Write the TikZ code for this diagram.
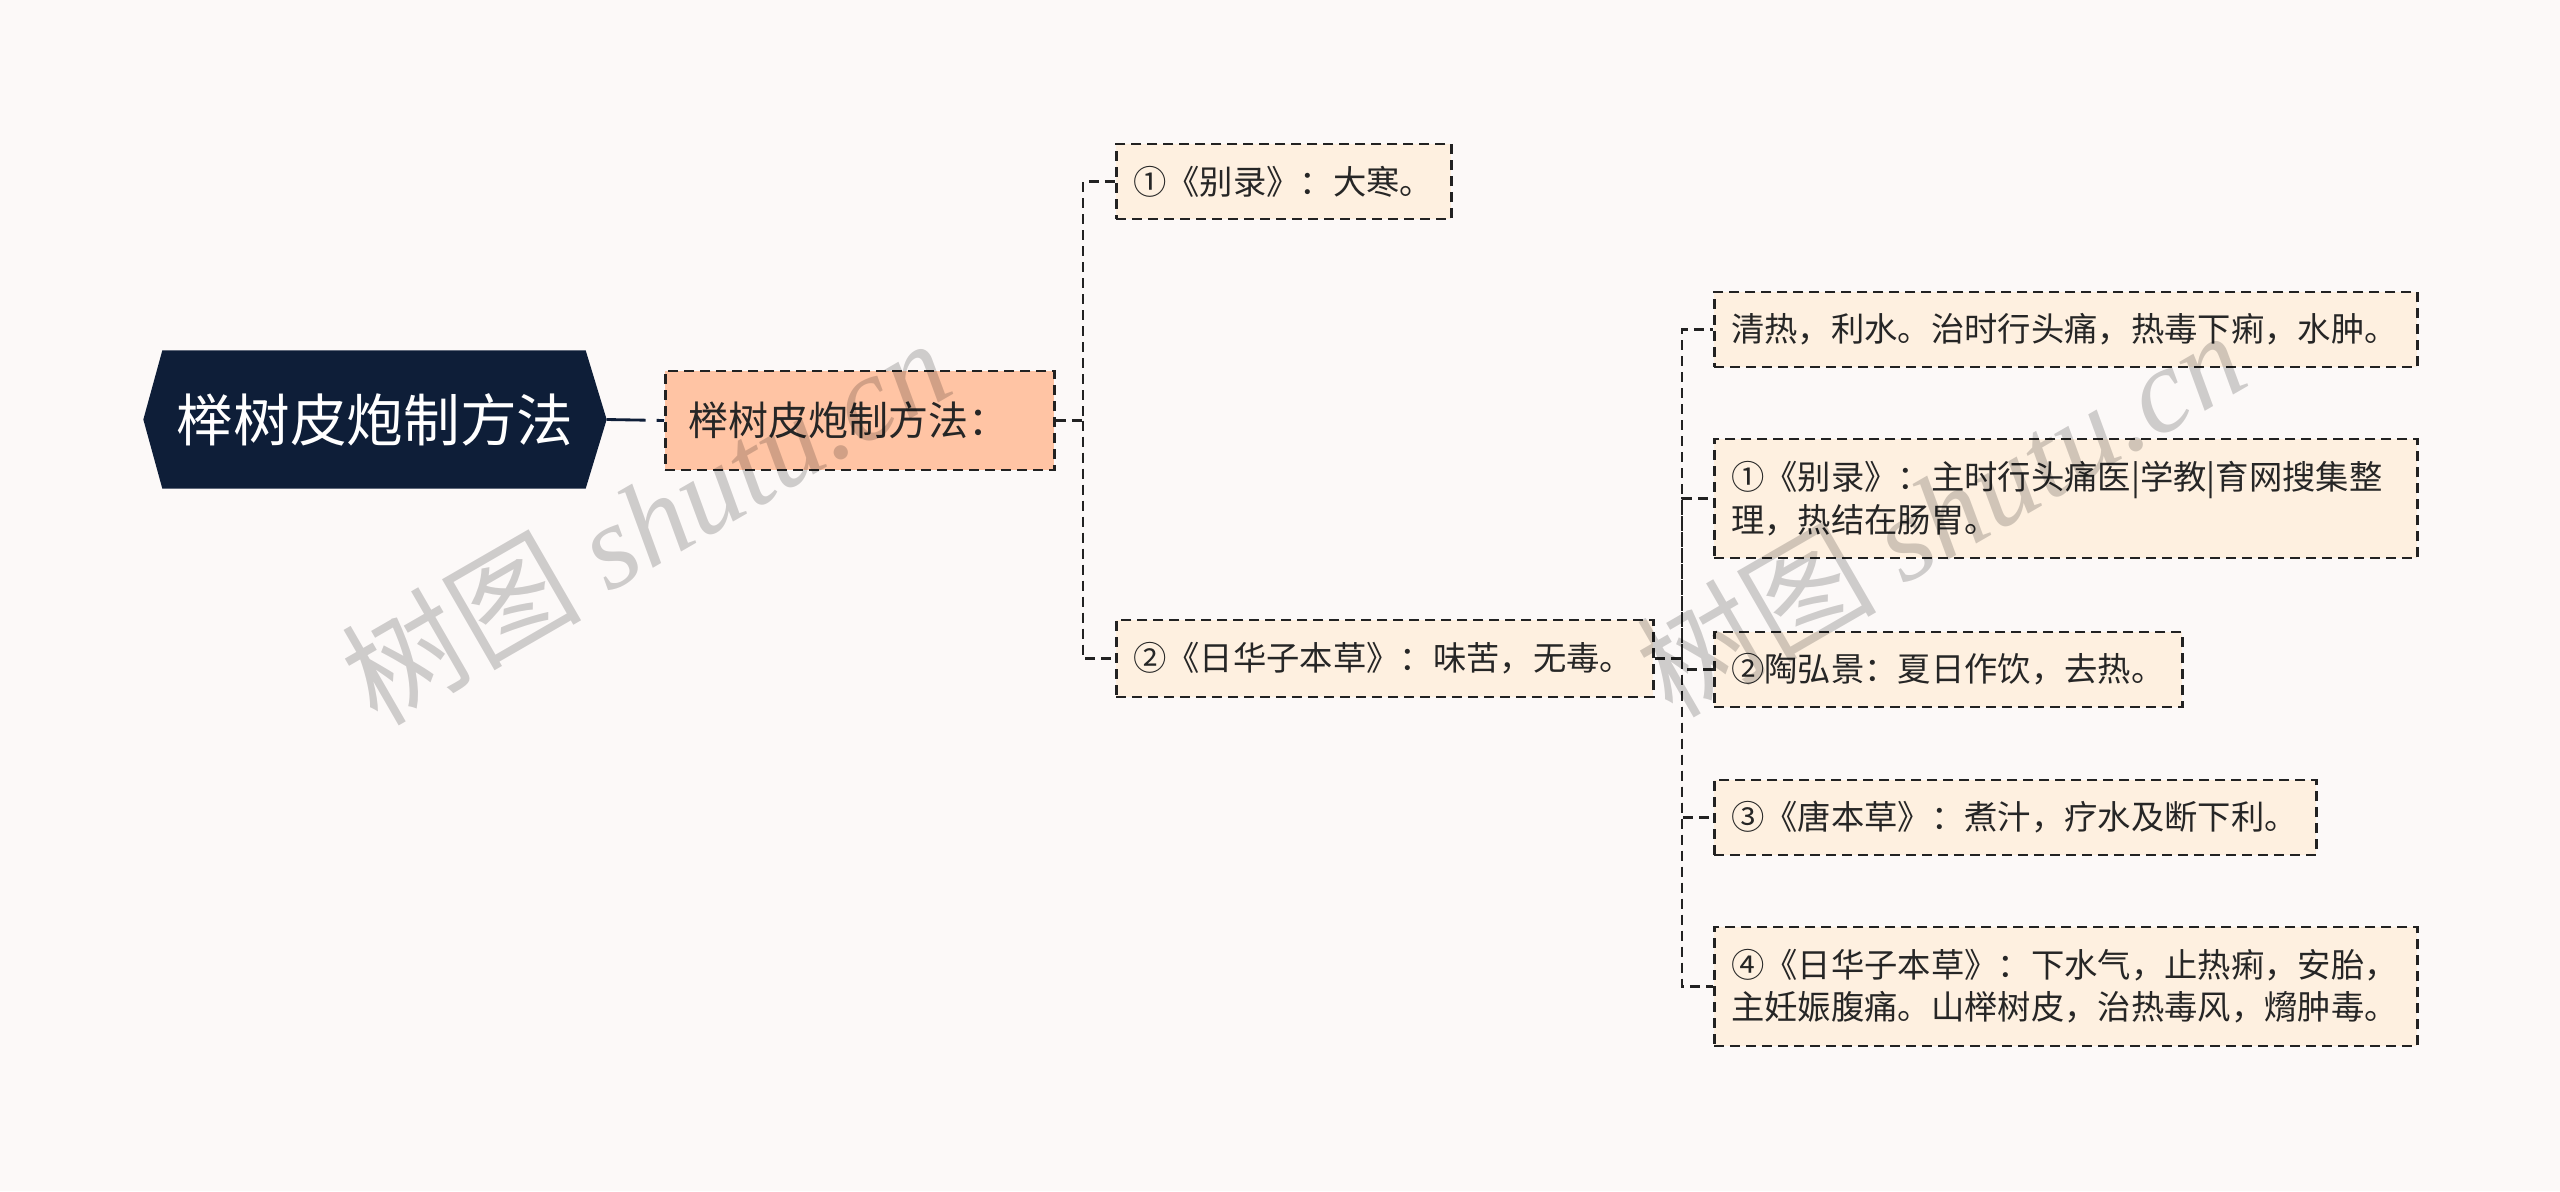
\documentclass[tikz,border=0pt]{standalone}
\usepackage{fontspec}
\setmainfont{Noto Sans CJK SC}
\newfontfamily\wmfont{Liberation Serif}
\usetikzlibrary{backgrounds}
\definecolor{bgc}{HTML}{FCF9F8}
\definecolor{navy}{HTML}{0E1E38}
\definecolor{peach}{HTML}{FFC4A4}
\definecolor{cream}{HTML}{FEF0E0}
\definecolor{linec}{HTML}{222222}
\definecolor{txt}{HTML}{262626}
\begin{document}
\begin{tikzpicture}[x=0.3pt,y=-0.3pt,
  dsh/.style={line width=0.85pt, dash pattern=on 3pt off 1.8pt},
  box/.style={dsh, draw=linec, fill=cream, inner xsep=5pt, inner ysep=0pt,
    anchor=west, align=left, text=txt, font=\fontsize{10}{12.7}\selectfont},
  lone/.style={dsh, draw=linec, fill=peach, inner xsep=7pt, inner ysep=0pt,
    anchor=west, align=left, text=txt, font=\fontsize{12}{14}\selectfont,
    text width=102.7pt, minimum height=29.7pt},
  rootn/.style={inner sep=0pt, minimum width=138.6pt, minimum height=41.1pt,
    text=white, font=\fontsize{17}{20}\selectfont},
  conn/.style={dsh, draw=linec},
  rootconn/.style={draw=navy, line width=0.85pt, dash pattern=on 11.7pt off 3.3pt},
  wm/.style={text=black, text opacity=0.18, font=\fontsize{36}{40}\selectfont, rotate=30}]
\begin{scope}[on background layer]
  \fill[bgc] (0,0) rectangle (2560,1191);
\end{scope}
\useasboundingbox (0,0) rectangle (2560,1191);

% root
\node[rootn] (root) at (375,419.5) {榉树皮炮制方法};
\begin{scope}[on background layer]
  \fill[navy] (root.west) -- ([xshift=5.7pt]root.north west) -- ([xshift=-6.3pt]root.north east)
    -- (root.east) -- ([xshift=-6.3pt]root.south east) -- ([xshift=5.7pt]root.south west) -- cycle;
\end{scope}

% level 1
\node[lone] (l1) at (664,420.5) {榉树皮炮制方法：};

% level 2
\node[box, text width=90.5pt, minimum height=22.5pt] (a) at (1115,181.5) {①《别录》：大寒。};
\node[box, text width=151.1pt, minimum height=23.1pt] (b) at (1115,658.5) {②《日华子本草》：味苦，无毒。};

% level 3
\node[box, text width=200.9pt, minimum height=22.5pt] (g1) at (1713,329.5) {清热，利水。治时行头痛，热毒下痢，水肿。};
\node[box, text width=200.9pt, minimum height=35.7pt] (g2) at (1713,498.5) {①《别录》：主时行头痛医|学教|育网搜集整\\理，热结在肠胃。};
\node[box, text width=130.4pt, minimum height=22.5pt] (g3) at (1713,669.5) {②陶弘景：夏日作饮，去热。};
\node[box, text width=170.6pt, minimum height=22.5pt] (g4) at (1713,817.5) {③《唐本草》：煮汁，疗水及断下利。};
\node[box, text width=200.9pt, minimum height=35.7pt] (g5) at (1713,986.5) {④《日华子本草》：下水气，止热痢，安胎，\\主妊娠腹痛。山榉树皮，治热毒风，熁肿毒。};

% connectors
\coordinate (j1) at (1083,420.5);
\coordinate (j2) at (1682,658.5);
\draw[rootconn] (root.east) -- (l1.west);
\draw[conn] (l1.east) -- (j1) |- (a.west);
\draw[conn] (j1) |- (b.west);
\draw[conn] (b.east) -- (j2) |- (g1.west);
\draw[conn] (j2) |- (g2.west);
\draw[conn] (j2) |- (g3.west);
\draw[conn] (j2) |- (g4.west);
\draw[conn] (j2) |- (g5.west);

% watermark
\node[wm] (wm1) at (645,520) {树图 {\wmfont\itshape shutu.cn}};
\node[wm] (wm2) at (1940,512) {树图 {\wmfont\itshape shutu.cn}};
\end{tikzpicture}
\end{document}
